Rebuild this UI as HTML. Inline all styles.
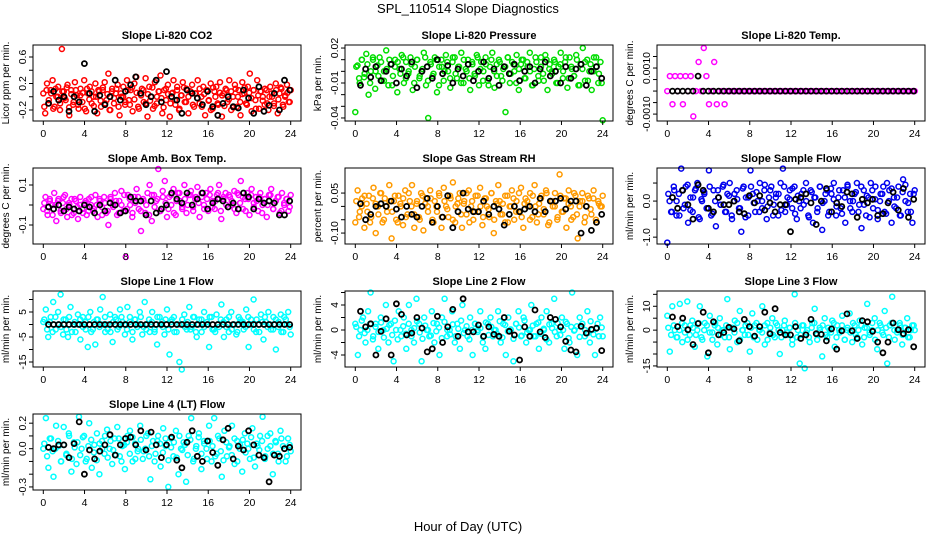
<!DOCTYPE html>
<html><head><meta charset="utf-8"><style>
body{margin:0;background:#fff;}
svg{display:block;font-family:"Liberation Sans",sans-serif;}
</style></head><body>
<svg id="chart" width="936" height="540" viewBox="0 0 936 540" xmlns="http://www.w3.org/2000/svg">
<rect width="936" height="540" fill="#fff"/>
<text x="468" y="13" text-anchor="middle" font-size="13">SPL_110514  Slope Diagnostics</text>
<text x="468" y="531" text-anchor="middle" font-size="13">Hour of Day (UTC)</text>
<g id="panels"></g>
</svg>
<script>
// ---- data arrays ----
const co2Color=[0.05,-0.25,0.2,-0.1,0.1,0.25,-0.15,0.0,0.15,-0.2,0.72,0.08,-0.05,0.18,-0.28,0.1,-0.12,0.22,0.02,-0.18,0.12,-0.08,0.25,-0.22,0.05,0.15,-0.1,0.0,0.2,-0.25,0.08,-0.15,0.1,0.22,-0.05,0.35,-0.2,0.12,-0.1,0.05,0.18,-0.28,0.0,0.15,-0.12,0.25,-0.05,0.1,-0.22,0.2,0.3,-0.15,0.05,0.12,-0.08,0.28,-0.3,0.15,0.0,-0.18,0.22,-0.1,0.08,0.32,-0.25,0.1,-0.05,0.18,-0.3,0.05,0.25,-0.12,0.15,-0.2,0.02,0.22,-0.08,0.12,-0.25,0.08,0.18,-0.15,0.05,0.25,-0.1,0.0,0.15,-0.28,0.1,-0.05,0.2,-0.18,0.08,0.15,-0.12,0.22,-0.3,0.05,0.12,-0.08,0.25,-0.2,0.0,0.18,-0.15,0.1,-0.28,0.22,0.05,-0.1,0.15,0.35,-0.22,0.1,-0.05,0.25,-0.18,0.08,0.0,-0.12,0.1,-0.2,0.15,0.0,-0.1,0.2,-0.25,0.05,0.12,-0.15,0.0,0.18,-0.08,0.1];
const co2Core=[-0.15,0.1,-0.05,0.05,-0.18,0.12,0.0,-0.1,0.08,-0.02,0.14,-0.16,0.04,-0.08,0.1,-0.12,0.02,0.06,-0.18,0.12,-0.04,0.08,-0.14,0.0,0.1,-0.06,0.14,-0.1,0.04,-0.2,0.08,-0.02,0.12,-0.15,0.05,0.0,-0.08,0.1,-0.12,0.14,-0.04,0.06,-0.18,0.02,0.1,-0.1,0.04,-0.06,0.14,-0.14,0.0,0.08,-0.02,-0.16,0.12,0.04,-0.1,0.06,-0.05,0.1,-0.18,0.02,0.14,-0.08,0.0,0.08,-0.12,0.05,-0.02,0.12,-0.15,0.04,0.1,-0.06,-0.2,0.14,0.0,-0.1,0.06,0.02,-0.14,0.1,-0.04,0.08,-0.16,0.12,0.0,-0.08,0.04,0.14,-0.12,0.06,-0.02,0.1,-0.18,0.02,0.08,-0.06,0.12,-0.1,0.0,0.05,-0.14,0.1,-0.04,0.14,-0.12,0.02,0.06,-0.08];
const co2Black=[-0.1,0.08,-0.05,0.0,-0.22,0.0,-0.08,0.5,0.05,-0.22,0.02,-0.12,0.0,0.25,-0.05,0.08,0.18,0.3,0.05,-0.12,0.0,0.25,-0.08,0.38,0.0,-0.05,-0.25,0.1,0.05,-0.02,-0.12,0.08,-0.15,-0.28,-0.1,0.0,-0.15,-0.17,0.1,-0.02,-0.25,0.15,-0.22,-0.13,0.05,-0.2,0.25,0.1];
const presColor=[-0.035,0.005,-0.01,0.01,-0.005,0.015,-0.02,0.0,0.01,-0.015,0.005,0.012,-0.008,0.0,0.018,-0.012,0.006,-0.004,0.01,-0.018,0.002,0.014,-0.01,0.008,-0.002,0.012,-0.016,0.004,0.01,-0.006,0.0,0.016,-0.012,-0.04,0.008,-0.004,0.012,-0.018,0.004,0.01,-0.008,0.014,0.0,-0.014,0.008,0.012,-0.006,0.004,0.016,-0.01,0.002,0.01,-0.016,0.006,-0.002,0.014,-0.012,0.008,0.0,0.012,-0.008,0.004,0.016,-0.014,0.006,0.01,-0.004,0.002,-0.035,0.012,-0.01,0.008,0.0,0.014,-0.016,0.006,0.01,-0.006,0.004,0.016,-0.012,0.002,0.008,-0.008,0.012,-0.002,0.014,-0.016,0.006,0.0,0.01,-0.01,0.004,0.016,-0.006,0.008,-0.014,0.012,0.002,-0.004,0.014,-0.012,0.006,0.02,-0.008,0.01,0.0,-0.016,0.012,0.004,-0.01,0.008,-0.042];
const presCore=[0.004,-0.006,0.01,-0.002,0.006,-0.01,0.012,0.0,-0.004,0.008,-0.008,0.002,0.01,-0.012,0.004,0.008,-0.002,0.012,-0.006,0.0,0.006,-0.01,0.01,-0.004,0.002,0.012,-0.008,0.006,-0.002,0.01,-0.012,0.004,0.0,0.008,-0.006,0.012,-0.002,0.004,-0.01,0.01,0.0,-0.006,0.008,-0.004,0.012,0.002,-0.008,0.006,-0.012,0.01,0.0,-0.004,0.008,-0.008,0.004,0.012,-0.002,0.006,-0.01,0.002,0.01,-0.006,0.008,0.0,-0.012,0.012,-0.004,0.004,-0.008,0.01,0.002,-0.002,0.008,-0.01,0.006,0.0,0.012,-0.006,0.004,-0.004,0.01,-0.012,0.002,0.008,-0.008,0.006,0.0,0.012,-0.002,-0.01];
const presBlack=[-0.012,0.002,-0.005,0.004,-0.008,0.0,0.006,-0.01,0.002,-0.004,0.008,-0.014,0.0,0.004,-0.006,0.01,-0.002,0.005,-0.01,0.002,-0.004,0.006,-0.008,0.0,0.008,-0.006,0.002,-0.012,0.004,-0.002,0.006,-0.008,0.0,0.004,-0.01,0.002,0.008,-0.004,0.0,-0.01,0.004,-0.006,0.002,0.006,-0.012,0.0,0.004,-0.006];
const tempColor=[0.0,0.00065,-0.00057,0.00065,0.0,0.00065,-0.00057,0.00065,0.0,0.00065,-0.0011,0.0,0.00126,0.0,0.00187,0.00065,-0.00057,0.0,0.00126,-0.00057,0.0,0.0,-0.00057,0.0,0.0,0.0,0.0,0.0,0.0,0.0,0.0,0.0,0.0,0.0,0.0,0.0,0.0,0.0,0.0,0.0,0.0,0.0,0.0,0.0,0.0,0.0,0.0,0.0,0.0,0.0,0.0,0.0,0.0,0.0,0.0,0.0,0.0,0.0,0.0,0.0,0.0,0.0,0.0,0.0,0.0,0.0,0.0,0.0,0.0,0.0,0.0,0.0,0.0,0.0,0.0,0.0,0.0,0.0,0.0,0.0,0.0,0.0,0.0,0.0,0.0,0.0,0.0,0.0,0.0,0.0,0.0,0.0,0.0,0.0,0.0,0.0];
const tempCore=[];
const tempBlack=[0.0,0.0,0.0,0.0,0.0,0.00065,0.0,0.0,0.0,0.0,0.0,0.0,0.0,0.0,0.0,0.0,0.0,0.0,0.0,0.0,0.0,0.0,0.0,0.0,0.0,0.0,0.0,0.0,0.0,0.0,0.0,0.0,0.0,0.0,0.0,0.0,0.0,0.0,0.0,0.0,0.0,0.0,0.0,0.0,0.0,0.0,0.0,0.0];
const ambColor=[-0.02,0.04,-0.05,0.02,0.0,0.06,-0.08,0.03,-0.03,0.01,0.05,-0.06,0.0,0.03,-0.04,0.02,-0.07,0.04,-0.02,0.01,-0.05,0.03,0.0,-0.03,0.05,-0.06,0.02,-0.01,0.04,-0.04,-0.1,0.03,0.0,0.06,-0.05,0.02,0.07,-0.03,-0.26,0.05,0.0,-0.06,0.04,0.08,-0.02,-0.13,0.03,-0.04,0.06,0.1,-0.08,0.05,0.02,0.18,-0.03,0.07,0.12,-0.06,0.04,0.0,0.08,-0.05,0.06,0.02,-0.02,0.1,-0.04,0.05,0.07,-0.01,0.03,0.09,-0.06,0.04,0.0,0.06,-0.03,0.08,0.02,-0.02,0.05,0.1,-0.07,0.03,0.06,-0.01,0.04,0.0,0.07,-0.04,0.05,0.12,-0.02,0.03,0.06,-0.05,0.08,0.01,0.04,-0.03,0.06,0.0,0.03,-0.06,0.05,0.08,-0.02,0.02,0.04,-0.04,0.06,0.0,0.03,-0.03,0.05];
const ambCore=[0.01,-0.03,0.03,-0.05,0.0,0.02,-0.04,0.04,-0.02,0.01,-0.05,0.03,-0.01,0.0,-0.04,0.02,-0.03,0.04,-0.02,0.0,0.03,-0.05,0.01,-0.03,0.04,-0.01,0.02,-0.04,0.0,0.05,-0.02,0.03,-0.04,0.01,0.04,-0.03,0.02,0.0,-0.05,0.05,-0.01,0.03,-0.03,0.04,0.01,-0.02,0.05,-0.04,0.02,0.06,-0.01,0.03,0.0,0.05,-0.03,0.04,0.01,0.06,-0.02,0.03,0.05,-0.01,0.02,0.06,-0.03,0.04,0.0,0.05,0.02,-0.02,0.06,0.01,0.04,-0.03,0.03,0.05,-0.01,0.02,0.04,-0.04,0.03,0.0,0.05,-0.02,0.02,0.04,-0.03,0.01,0.03,-0.01];
const ambBlack=[-0.01,-0.02,0.0,-0.03,-0.01,-0.02,-0.03,0.0,-0.01,-0.04,0.0,-0.03,0.01,0.0,-0.04,-0.03,0.04,0.02,0.02,-0.05,0.02,-0.04,-0.02,0.0,0.06,0.03,0.01,0.06,0.0,0.03,0.06,-0.02,0.01,0.03,0.02,-0.01,0.01,-0.02,0.06,0.04,-0.02,0.03,0.01,0.02,0.01,-0.05,-0.05,0.02];
const rhColor=[-0.06,0.06,-0.02,0.03,-0.08,0.01,0.04,-0.04,0.07,-0.1,0.0,0.05,-0.06,0.03,-0.02,0.08,-0.12,0.02,-0.05,0.04,0.0,-0.07,0.06,-0.03,0.02,0.08,-0.08,0.01,-0.04,0.05,-0.09,0.03,0.0,0.06,-0.05,0.02,-0.02,0.04,-0.08,0.07,0.0,-0.04,0.03,0.09,-0.06,0.01,0.05,-0.08,0.02,-0.03,0.06,0.0,-0.05,0.04,-0.02,0.07,-0.07,0.03,0.0,-0.04,0.05,-0.1,0.02,0.08,-0.03,0.01,-0.06,0.04,0.0,0.06,-0.05,0.02,-0.02,0.07,-0.08,0.03,0.0,0.05,-0.04,0.08,-0.06,0.01,0.04,-0.03,0.06,-0.07,0.02,0.0,0.05,-0.05,0.12,-0.02,0.03,-0.08,0.06,0.0,-0.04,0.04,-0.12,0.02,0.05,-0.06,0.0,0.03,-0.03,0.06,-0.05,0.02,0.0,0.04];
const rhCore=[0.02,-0.04,0.0,0.04,-0.02,-0.06,0.03,0.01,-0.03,0.05,-0.05,0.0,0.02,-0.02,0.04,-0.06,0.01,0.03,-0.04,0.05,0.0,-0.03,0.02,-0.05,0.04,0.01,-0.02,0.03,-0.06,0.0,0.05,-0.04,0.02,-0.01,0.04,-0.05,0.0,0.03,-0.03,0.01,0.05,-0.06,0.02,-0.02,0.04,0.0,-0.04,0.03,-0.01,0.05,-0.05,0.01,0.02,-0.03,0.04,-0.06,0.0,0.03,-0.02,0.05,-0.04,0.01,0.02,-0.05,0.04,0.0,-0.03,0.03,-0.01,0.05,-0.06,0.02,0.0,-0.04,0.04,-0.02,0.03,0.01,-0.05,0.05,-0.03,0.0,0.02,-0.04,0.04,-0.01,0.03,-0.06,0.01,0.0];
const rhBlack=[0.01,-0.05,-0.03,0.0,0.01,0.0,0.02,-0.01,-0.04,0.0,-0.03,-0.04,0.0,0.03,-0.06,0.0,-0.04,0.04,-0.08,-0.02,0.05,-0.01,-0.02,-0.02,0.02,-0.03,0.0,-0.01,-0.07,-0.03,0.0,-0.02,-0.01,0.0,-0.02,0.03,-0.02,0.02,0.02,0.03,-0.01,0.02,0.02,-0.1,0.0,-0.09,-0.06,-0.03];
const flowColor=[-1.15,0.0,-0.3,0.3,-0.4,0.2,0.9,-0.2,0.4,-0.6,0.1,-0.3,0.3,0.5,-0.5,0.0,0.2,-0.2,0.85,-0.4,0.3,-0.7,0.1,-0.1,0.4,-0.3,0.2,0.5,-0.5,0.0,0.3,-0.2,-0.85,0.4,0.1,-0.4,0.85,0.2,-0.3,0.0,0.5,-0.2,0.3,-0.5,0.1,0.4,-0.1,0.2,-0.4,0.5,0.9,-0.3,0.1,0.3,-0.2,0.4,-0.5,0.0,0.2,-0.1,0.5,-0.4,0.3,-0.6,0.1,-0.2,0.4,-0.8,0.0,0.3,-0.3,0.2,0.5,-0.4,0.1,-0.2,0.3,-0.6,0.4,0.0,-0.3,0.2,0.5,-0.1,-0.75,0.3,-0.4,0.1,0.5,-0.2,0.4,-0.5,0.0,0.2,-0.3,0.5,0.3,-0.6,0.1,-0.2,0.4,-0.4,0.6,0.0,-0.3,0.2,-0.6,0.3];
const flowCore=[0.2,-0.3,0.4,0.0,-0.4,0.3,-0.1,0.45,-0.25,0.1,0.35,-0.45,0.05,0.25,-0.2,0.4,-0.35,0.0,0.3,-0.1,0.45,-0.3,0.15,-0.4,0.2,0.05,-0.2,0.35,-0.45,0.1,0.4,-0.05,0.25,-0.3,0.0,0.45,-0.15,0.3,-0.4,0.1,0.2,-0.25,0.4,-0.1,0.05,0.35,-0.35,0.15,-0.2,0.3,0.0,-0.45,0.25,0.1,-0.3,0.4,-0.05,0.2,-0.4,0.35,0.05,-0.15,0.3,-0.35,0.1,0.45,-0.2,0.0,0.25,-0.3,0.4,-0.1,0.15,-0.45,0.3,0.05,-0.25,0.2,0.4,-0.35,0.0,0.35,-0.15,0.1,-0.4,0.25,0.45,-0.05,-0.3,0.2];
const flowBlack=[0.1,-0.2,0.3,-0.1,-0.5,0.45,0.3,-0.2,-0.3,0.1,-0.1,-0.1,0.0,-0.3,-0.35,0.15,-0.05,0.15,-0.25,-0.05,-0.3,-0.1,-0.1,-0.85,0.05,0.1,0.2,-0.05,-0.65,0.0,0.35,-0.3,-0.05,-0.15,0.25,0.2,-0.45,0.05,-0.05,0.05,-0.4,-0.35,-0.05,0.25,-0.25,0.35,-0.45,0.05];
const line1Color=[1,6,-5,3,9,-2,5,12,-4,2,-5,7,0,-3,4,-6,3,1,-9,5,-2,-8,2,6,11,-3,0,4,-7,3,-2,6,1,-4,7,3,-6,2,-1,5,-4,9,0,-3,5,-2,-8,3,1,-4,6,-12,2,-3,0,-15,-18,4,-2,7,-1,3,-5,2,-3,5,0,-9,3,-2,4,-1,8,-5,2,-3,5,0,-4,3,1,-2,6,-9,2,10,-3,0,4,-6,1,5,-2,3,-10,-1,4,-3,2,5,-4];
const line1Core=[2,-2,1,-3,3,0,-1,2,-2,3,-3,1,0,2,-1,-2,3,-3,1,2,-1,0,3,-2,-3,1,2,-1,3,0,-2,1,-3,2,0,3,-1,-2,2,1,-3,3,0,-1,2,-2,1,3,-3,0,2,-1,1,-2,3,-3,0,2,-1,1,3,-2,-3,0,2,1,-1,3,-2,0,-3,2,1,-1,3,0,-2,2,-3,1,3,-1,0,-2,2,1,-3,3,0,-1];
const line1Black=[0,0,0,0,0,0,0,0,0,0,0,0,0,0,0,0,0,0,0,0,0,0,0,0,0,0,0,0,0,0,0,0,0,0,0,0,0,0,0,0,0,0,0,0,0,0,0,0];
const line2Color=[1,-4,0,2,-2,3,6,-1,1,-3,2,0,4,-2,1,-5,0,3,-1,2,-3,4,0,-2,5,1,-5,2,0,-1,3,-2,1,-4,2,5,-1,0,3,-2,1,-3,4,0,-1,2,-4,1,0,3,-2,-3,1,2,-1,0,3,-2,1,-4,2,0,-5,1,3,-1,2,-2,0,4,-1,1,-3,2,0,3,-2,1,5,-1,0,2,-3,1,-2,6,0,-4,2,1,-1,3,-2,0,-4,1,2,-1];
const line2Core=[0.5,-1,1.5,-0.5,0,1,-1.5,0.5,-0.3,1.2,-1.2,0.2,0.8,-0.8,1.5,-1.5,0,0.6,-0.6,1,-1,0.3,1.4,-0.4,-1.4,0.7,0,-0.9,1.1,-0.2,0.4,-1.3,1.3,0,-0.7,0.9,-1,0.2,1.5,-0.5,0.6,-1.5,0,1,-0.3,0.3,-1.1,1.2,-0.8,0.5,0,-0.6,1.4,-1.2,0.8,-0.2,0.1,-1.4,1,0.4,-0.9,1.5,-0.4,0,0.7,-1,1.2,-0.6,0.2,-1.5,0.9,0.3,-0.3,1.1,-0.8,0,1.3,-1.3,0.5,-0.1,0.6,-1.1,1,0,-0.5,1.4,-0.7,0.2,-1,0.4];
const line2Black=[3,0.5,1,-4,-0.2,1.8,-4,4.2,2.5,-0.8,-0.5,2,0.3,-3.5,-3,2.2,-2,0.5,3.3,-1,5,-0.3,-0.3,0.8,-1,0.5,-0.7,-1,2,-0.2,-0.8,-4.8,0.5,-1,3.2,-0.3,-1.2,2,1.7,0.5,-1.8,-3.2,-3.5,0.6,-0.5,0.1,0.3,-3.3];
const line3Color=[6,-9,10,0,-3,11,-5,2,12,-2,4,-7,0,10,-4,3,-11,6,-1,2,-6,5,0,-3,13,-8,1,4,-5,8,0,-2,3,-9,7,2,-4,0,10,-6,3,-1,5,-3,2,-10,0,4,-2,1,-6,15,-3,-14,2,-16,0,-5,3,9,-2,1,-11,5,-3,0,4,-7,2,-1,6,-4,0,7,-5,2,-3,4,-6,1,11,-2,0,5,-8,3,-1,8,-14,2,14,-4,0,3,-6,1,5,-3,2,0];
const line3Core=[1,-2,2,-3,0,3,-1,-4,2,1,-2,3,-3,0,2,-1,-4,3,1,-2,0,2,-3,1,-1,3,-4,0,2,-2,1,-3,3,0,-1,2,-4,1,-2,3,0,-3,2,-1,1,-4,3,0,-2,2,-1,-3,1,3,-4,0,2,-2,1,-1,3,-3,0,2,-4,1,-1,3,-2,0,2,-3,1,-1,3,-4,0,2,-2,1,-3,3,0,-1,2,-2,1,-3,0,2];
const line3Black=[5.5,1.5,5,0.2,-6,2.8,7.5,-9.5,3.5,-2,-1,1.2,0.5,-4.5,4.5,1.5,-2.5,1.5,7.5,-1.5,9,-1,-2,-2,1.5,-3.5,-2,4.5,-1.5,-1.8,-4.5,0.5,-8,-0.3,6.8,-0.3,-3.5,4,3.5,-0.5,-5,-9.5,-5,3,0.2,-1.5,0.2,-7];
const line4Color=[0.0,0.24,-0.15,0.08,-0.22,0.18,0.02,-0.1,0.17,-0.05,0.12,-0.18,0.05,-0.12,0.25,0.0,0.1,-0.08,0.2,-0.15,0.03,0.12,-0.2,0.06,-0.04,0.15,0.0,-0.12,0.08,0.17,-0.06,0.02,-0.16,0.1,0.14,-0.1,0.04,-0.02,0.18,-0.08,0.0,0.12,-0.24,0.06,-0.04,0.1,-0.14,0.16,0.02,-0.3,0.08,-0.06,0.14,-0.2,0.0,0.05,-0.26,0.1,0.24,-0.08,0.02,0.12,-0.16,0.06,0.0,0.18,-0.1,0.24,-0.04,0.08,-0.22,0.14,-0.06,0.02,0.18,-0.12,0.06,0.0,-0.18,0.12,0.04,-0.08,0.16,-0.14,0.02,0.1,0.25,-0.06,0.0,0.12,-0.2,0.06,-0.04,0.14,0.02,-0.1,0.08,-0.02];
const line4Core=[0.04,-0.06,0.08,-0.02,0.0,0.06,-0.1,0.03,-0.04,0.1,-0.08,0.01,0.05,-0.05,0.09,-0.1,0.02,0.07,-0.03,-0.09,0.04,0.0,0.1,-0.07,0.06,-0.01,-0.05,0.08,-0.1,0.03,0.05,-0.04,0.09,-0.08,0.0,0.07,-0.02,0.1,-0.06,0.02,-0.1,0.06,0.04,-0.03,0.08,-0.09,0.01,0.05,-0.07,0.1,-0.01,0.03,-0.05,0.07,-0.1,0.0,0.09,-0.04,0.04,-0.08,0.06,0.02,-0.06,0.1,-0.02,-0.09,0.05,0.01,-0.05,0.08,-0.1,0.03,0.07,-0.03,0.0,0.09,-0.07,0.04,-0.01,0.06,-0.08,0.1,0.02,-0.04,0.05,-0.1,0.08,0.0,-0.06,0.03];
const line4Black=[0.01,0.0,0.03,0.03,-0.07,0.04,0.21,-0.2,-0.01,-0.08,-0.02,0.03,0.11,-0.05,0.03,0.08,0.09,0.03,0.14,-0.01,0.13,0.03,-0.07,0.03,0.09,-0.09,-0.15,0.05,0.14,-0.06,-0.1,0.06,-0.03,-0.13,0.07,0.16,-0.08,0.02,-0.01,0.14,0.03,-0.05,-0.07,-0.26,-0.05,-0.06,0.0,0.01];
const xTicks=[0,4,8,12,16,20,24];

const panels=[
 {name:"co2",title:"Slope Li-820 CO2",ylab:"Licor ppm per min.",col:0,row:0,ymin:-0.366,ymax:0.781,ticks:[-0.2,0,0.2,0.4,0.6],labels:[[-0.2,"-0.2"],[0.2,"0.2"],[0.6,"0.6"]],color:"#ff0000",c:co2Color,k:co2Core,b:co2Black},
 {name:"pressure",title:"Slope Li-820 Pressure",ylab:"kPa per min.",col:1,row:0,ymin:-0.0426,ymax:0.0226,ticks:[-0.04,-0.03,-0.02,-0.01,0,0.01,0.02],labels:[[-0.04,"-0.04"],[-0.01,"-0.01"],[0.02,"0.02"]],color:"#00dd00",c:presColor,k:presCore,b:presBlack},
 {name:"temp",title:"Slope Li-820 Temp.",ylab:"degrees C per min.",col:2,row:0,ymin:-0.0013,ymax:0.002,ticks:[-0.001,-0.0005,0,0.0005,0.001,0.0015],labels:[[-0.001,"-0.0010"],[0.001,"0.0010"]],color:"#ff00ff",c:tempColor,k:tempCore,b:tempBlack},
 {name:"amb-temp",title:"Slope Amb. Box Temp.",ylab:"degrees C per min.",col:0,row:1,ymin:-0.195,ymax:0.185,ticks:[-0.1,0,0.1],labels:[[-0.1,"-0.1"],[0.1,"0.1"]],color:"#ff00ff",c:ambColor,k:ambCore,b:ambBlack},
 {name:"rh",title:"Slope Gas Stream RH",ylab:"percent per min.",col:1,row:1,ymin:-0.141,ymax:0.144,ticks:[-0.1,-0.05,0,0.05],labels:[[-0.1,"-0.10"],[0.05,"0.05"]],color:"#ff9a00",c:rhColor,k:rhCore,b:rhBlack},
 {name:"sample-flow",title:"Slope Sample Flow",ylab:"ml/min per min.",col:2,row:1,ymin:-1.19,ymax:0.917,ticks:[-1,-0.5,0,0.5],labels:[[-1,"-1.0"],[0,"0.0"]],color:"#0000ee",c:flowColor,k:flowCore,b:flowBlack},
 {name:"line1",title:"Slope Line 1 Flow",ylab:"ml/min per min.",col:0,row:2,ymin:-17,ymax:13.4,ticks:[-15,-10,-5,0,5,10],labels:[[-15,"-15"],[-5,"-5"],[5,"5"]],color:"#00ffff",c:line1Color,k:line1Core,b:line1Black},
 {name:"line2",title:"Slope Line 2 Flow",ylab:"ml/min per min.",col:1,row:2,ymin:-5.92,ymax:6.24,ticks:[-4,-2,0,2,4,6],labels:[[-4,"-4"],[0,"0"],[4,"4"]],color:"#00ffff",c:line2Color,k:line2Core,b:line2Black},
 {name:"line3",title:"Slope Line 3 Flow",ylab:"ml/min per min.",col:2,row:2,ymin:-15.45,ymax:16.4,ticks:[-15,-10,-5,0,5,10,15],labels:[[-15,"-15"],[0,"0"],[10,"10"]],color:"#00ffff",c:line3Color,k:line3Core,b:line3Black},
 {name:"line4",title:"Slope Line 4 (LT) Flow",ylab:"ml/min per min.",col:0,row:3,ymin:-0.324,ymax:0.272,ticks:[-0.3,-0.2,-0.1,0,0.1,0.2],labels:[[-0.3,"-0.3"],[0,"0.0"],[0.2,"0.2"]],color:"#00ffff",c:line4Color,k:line4Core,b:line4Black}
];
const colX=[33,345,657], rowY=[45,168,291,414], BW=268, BH=76;
const NS="http://www.w3.org/2000/svg";
const root=document.getElementById("panels");
function mk(tag,attrs,parent){const e=document.createElementNS(NS,tag);for(const k in attrs)e.setAttribute(k,attrs[k]);parent.appendChild(e);return e;}

panels.forEach(p=>{
  const L=colX[p.col], T=rowY[p.row];
  const xs=h=>L+10.3+h*(BW-20.6)/24;
  const ys=v=>T+BH-(v-p.ymin)/(p.ymax-p.ymin)*BH;
  const g=mk("g",{},root);
  
  
  const t=mk("text",{x:L+BW/2,y:T-6,"text-anchor":"middle","font-size":"11","font-weight":"bold"},g);
  t.textContent=p.title;
  
  
  const yl=mk("text",{x:0,y:0,"text-anchor":"middle","font-size":"10",transform:`translate(${L-24},${T+BH/2}) rotate(-90)`},g);
  yl.textContent=p.ylab;
  
  
  const pc=mk("g",{fill:"none",stroke:p.color,"stroke-width":"1.5"},g);
  
  
  p.c.forEach((v,i)=>{
    const h=i*24/(p.c.length-1);
    const c=mk("circle",{cx:xs(h).toFixed(1),cy:ys(v).toFixed(1),r:"2.5"},pc);
    
    
  });
  p.k.forEach((v,i)=>{
    const h=0.1+i*23.8/(p.k.length-1);
    const c=mk("circle",{cx:xs(h).toFixed(1),cy:ys(v).toFixed(1),r:"2.5"},pc);
    
    
  });
  const pb=mk("g",{fill:"none",stroke:"#000","stroke-width":"1.8"},g);
  
  
  p.b.forEach((v,i)=>{
    const h=0.5+i*23.4/(p.b.length-1);
    const c=mk("circle",{cx:xs(h).toFixed(1),cy:ys(v).toFixed(1),r:"2.5"},pb);
    
    
  });
  const box=mk("rect",{x:L,y:T,width:BW,height:BH,fill:"none",stroke:"#000","stroke-width":"1"},g);
  
  
  const ax=mk("g",{stroke:"#000","stroke-width":"1"},g);
  
  
  xTicks.forEach(h=>{
    mk("line",{x1:xs(h),x2:xs(h),y1:T+BH,y2:T+BH+4},ax);
    const tl=mk("text",{x:xs(h),y:T+BH+16,"text-anchor":"middle","font-size":"10.5",stroke:"none"},g);
    tl.textContent=h;
    
    
  });
  p.ticks.forEach(v=>mk("line",{x1:L-4,x2:L,y1:ys(v),y2:ys(v)},ax));
  p.labels.forEach(([v,s])=>{
    const tl=mk("text",{x:0,y:0,"text-anchor":"middle","font-size":"10.5",transform:`translate(${L-7},${ys(v)}) rotate(-90)`},g);
    tl.textContent=s;
    
    
  });
});
</script>
</body></html>
